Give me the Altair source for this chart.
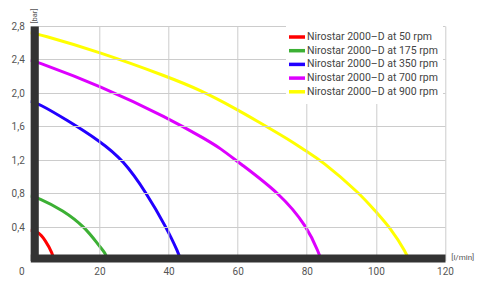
import altair as alt
import pandas as pd

series_names = [
    "Nirostar 2000–D at 50 rpm",
    "Nirostar 2000–D at 175 rpm",
    "Nirostar 2000–D at 350 rpm",
    "Nirostar 2000–D at 700 rpm",
    "Nirostar 2000–D at 900 rpm",
]
colors = ["#ff0000", "#3cb034", "#2200ff", "#dd00ff", "#ffff00"]

flow_50 = [0, 2.3, 4.3, 6.5, 6.8]
pres_50 = [0.36, 0.344, 0.245, 0.08, 0.0]

flow_175 = [0, 2.3, 9.5, 15.8, 20.0, 21.9, 22.3]
pres_175 = [0.77, 0.75, 0.60, 0.40, 0.17, 0.08, 0.0]

flow_350 = [0, 2.3, 10.5, 20.0, 26.9, 33.7, 39.3, 43.0, 43.5]
pres_350 = [1.90, 1.877, 1.68, 1.43, 1.20, 0.80, 0.40, 0.08, 0.0]

flow_700 = [0, 2.3, 20.0, 40.0, 51.0, 55.0, 60.0, 72.3, 80.2, 83.6, 84.2]
pres_700 = [2.39, 2.367, 2.09, 1.70, 1.44, 1.34, 1.18, 0.80, 0.40, 0.08, 0.0]

flow_900 = [0, 2.3, 20.0, 40.0, 49.0, 60.0, 65.0, 75.0, 80.0, 84.0, 95.4, 100.0, 104.0, 109.0, 109.5]
pres_900 = [2.72, 2.705, 2.49, 2.19, 2.04, 1.80, 1.68, 1.44, 1.30, 1.20, 0.80, 0.58, 0.40, 0.08, 0.0]

x_ticks = [0, 20, 40, 60, 80, 100, 120]
y_ticks = [0.4, 0.8, 1.2, 1.6, 2.0, 2.4, 2.8]

rows = []
for name, fl, pr in zip(series_names,
                        [flow_50, flow_175, flow_350, flow_700, flow_900],
                        [pres_50, pres_175, pres_350, pres_700, pres_900]):
    for i, (f, p) in enumerate(zip(fl, pr)):
        rows.append({"series": name, "flow": f, "pressure": p, "order": i})
df = pd.DataFrame(rows)

FONT = "Roboto"

chart = alt.Chart(df).mark_line(strokeWidth=3, interpolate="basis").encode(
    x=alt.X("flow:Q",
            scale=alt.Scale(domain=[0, 120], nice=False, zero=True),
            axis=alt.Axis(values=x_ticks, title="[l/min]", grid=True,
                          gridColor="#cccccc", gridWidth=1,
                          domainColor="#333333", domainWidth=8, offset=-2.5,
                          ticks=False, tickSize=0, labelPadding=8,
                          labelFlush=False, labelFont=FONT, labelFontSize=10,
                          labelColor="#555555",
                          labelOffset={"condition": {"test": "datum.value === 0", "value": -9}, "value": 0},
                          titleFont=FONT, titleFontSize=8, titleFontWeight="normal",
                          titleColor="#555555", titleX=420.5, titleY=-1,
                          titleAlign="left", titleBaseline="middle",
                          zindex=1)),
    y=alt.Y("pressure:Q",
            scale=alt.Scale(domain=[0, 2.8], nice=False, zero=True),
            axis=alt.Axis(values=y_ticks, title="[bar]", grid=True,
                          gridColor="#cccccc", gridWidth=1,
                          labelExpr="replace(format(datum.value, '.1f'), '.', ',')",
                          domainColor="#333333", domainWidth=8, offset=-4,
                          ticks=False, tickSize=0, labelPadding=10,
                          labelFont=FONT, labelFontSize=10, labelColor="#555555",
                          titleFont=FONT, titleFontSize=7.5, titleFontWeight="normal",
                          titleColor="#555555", titleAngle=270,
                          titleX=0, titleY=-10.5,
                          titleAlign="center", titleBaseline="middle",
                          zindex=1)),
    color=alt.Color("series:N",
                    scale=alt.Scale(domain=series_names, range=colors),
                    sort=series_names,
                    legend=alt.Legend(title=None, orient="none",
                                      legendX=255.7, legendY=0,
                                      fillColor="white", padding=5,
                                      symbolType="M-2,0H2", symbolSize=64,
                                      symbolStrokeWidth=3.5,
                                      labelFont=FONT, labelFontSize=10.5,
                                      labelColor="#444444", labelOffset=4,
                                      rowPadding=-0.3, zindex=3)),
    order="order:Q",
    detail="series:N",
).properties(
    width=414.7,
    height=234.5,
    autosize=alt.AutoSizeParams(type="none"),
    padding={"left": 22.3, "top": 18, "right": 36, "bottom": 16},
).configure_view(stroke=None)

chart.save("out.html", embed_options={"renderer": "svg", "actions": False})
